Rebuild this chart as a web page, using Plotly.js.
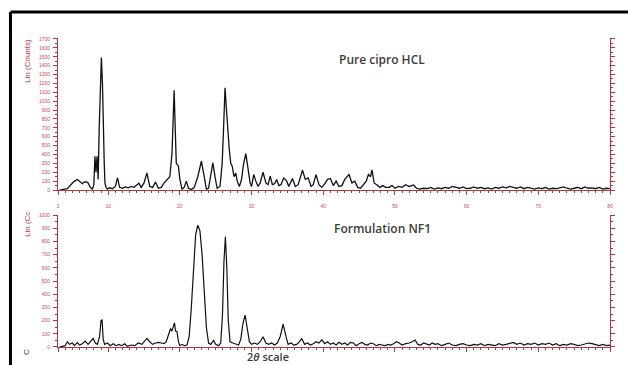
<!DOCTYPE html>
<html>
<head>
<meta charset="utf-8">
<script src="https://cdn.plot.ly/plotly-3.0.1.min.js"></script>
<style>html,body{margin:0;padding:0;background:#fff;}#chart{width:628px;height:365px;}</style>
</head>
<body>
<div id="chart"></div>
<script>
// Pure cipro HCL (top panel): 2-theta, counts
const pureX = [3.2,3.8,4.3,4.8,5.2,5.7,6.1,6.4,6.6,7.0,7.2,7.5,7.8,8.0,8.15,8.3,8.45,8.6,8.75,8.9,9.05,9.2,9.35,9.45,9.55,9.7,9.9,10.2,10.6,11.0,11.3,11.6,12.0,12.4,12.8,13.2,13.6,14.0,14.3,14.6,15.0,15.4,15.8,16.2,16.6,17.0,17.4,17.8,18.3,18.6,18.9,19.05,19.2,19.35,19.5,19.8,20.0,20.3,20.6,20.9,21.2,21.6,22.0,22.5,23.0,23.4,23.7,24.0,24.3,24.6,24.9,25.2,25.6,25.9,26.1,26.3,26.5,26.7,26.9,27.1,27.3,27.55,27.8,28.0,28.3,28.6,28.9,29.2,29.5,29.8,30.0,30.3,30.6,30.9,31.2,31.6,32.0,32.3,32.6,32.9,33.2,33.5,33.8,34.1,34.5,34.9,35.2,35.7,36.1,36.5,37.1,37.5,37.9,38.3,38.6,39.0,39.4,39.8,40.2,40.6,41.0,41.4,41.8,42.2,42.6,43.0,43.6,44.0,44.4,44.8,45.2,45.6,46.0,46.3,46.6,46.8,47.1,47.5,47.9,48.3,48.7,49.2,49.6,50.0,50.5,51.0,51.5,52.0,52.6,53.0,53.4,54.0,54.5,55.0,55.5,56.0,56.5,57.0,57.5,58.0,58.5,59.0,59.5,60.0,60.5,61.0,61.5,62.0,62.5,63.0,63.5,64.0,64.5,65.0,65.5,66.0,66.5,67.0,67.5,68.0,68.5,69.0,69.5,70.0,70.5,71.0,71.5,72.0,72.5,73.0,73.5,74.0,74.5,75.0,75.5,76.0,76.5,77.0,77.5,78.0,78.5,79.0,79.5,80.0];
const pureY = [0,5,15,60,95,118,95,72,88,90,80,30,10,60,380,200,380,120,700,1300,1490,1200,500,300,80,30,10,25,15,40,137,30,20,35,25,40,30,60,75,30,80,193,40,30,90,20,30,80,120,150,410,900,1123,700,300,268,120,10,30,100,20,5,30,150,324,150,10,20,150,306,150,20,40,300,700,1150,900,605,450,300,268,150,190,100,40,120,300,410,250,80,40,174,100,40,80,200,80,60,157,60,70,118,50,60,137,100,40,130,40,60,223,120,137,40,60,174,60,30,70,120,130,50,100,40,50,120,174,80,100,30,20,60,100,174,150,226,80,57,30,50,30,30,50,20,40,30,60,40,57,20,10,20,15,30,10,25,15,30,20,40,30,20,35,15,20,35,20,30,15,25,10,30,20,35,25,40,30,20,35,15,30,20,10,25,15,30,10,20,15,25,35,20,10,20,30,15,35,20,25,15,30,10,20,15];

// Formulation NF1 (bottom panel): 2-theta, counts
const nf1X = [3.2,3.6,4.0,4.3,4.6,5.0,5.3,5.7,6.0,6.4,6.8,7.2,7.6,7.9,8.2,8.5,8.8,9.0,9.15,9.3,9.5,9.9,10.3,10.7,11.1,11.5,11.9,12.3,12.7,13.2,13.7,14.2,14.7,15.1,15.4,15.8,16.2,16.6,17.0,17.4,17.8,18.1,18.4,18.7,18.9,19.1,19.25,19.4,19.6,19.8,20.0,20.3,20.6,21.0,21.3,21.6,21.9,22.2,22.5,22.8,23.1,23.4,23.7,24.0,24.3,24.7,25.0,25.4,25.7,25.95,26.15,26.35,26.55,26.75,27.0,27.4,27.8,28.2,28.5,28.8,29.1,29.4,29.7,30.0,30.4,30.8,31.2,31.6,32.0,32.4,32.8,33.2,33.6,34.0,34.4,34.8,35.1,35.5,35.9,36.3,36.7,37.0,37.4,37.8,38.2,38.6,39.0,39.4,39.8,40.2,40.6,41.0,41.4,41.8,42.2,42.6,43.0,43.4,43.8,44.2,44.6,45.0,45.4,45.8,46.2,46.6,47.0,47.4,47.8,48.2,48.6,49.0,49.4,49.8,50.2,50.6,51.0,51.5,52.0,52.4,52.8,53.2,53.6,54.0,54.4,54.8,55.2,55.6,56.0,56.5,57.0,57.5,58.0,58.5,59.0,59.5,60.0,60.5,61.0,61.5,62.0,62.5,63.0,63.5,64.0,64.5,65.0,65.5,66.0,66.5,67.0,67.5,68.0,68.5,69.0,69.5,70.0,70.5,71.0,71.5,72.0,72.5,73.0,73.5,74.0,74.5,75.0,75.5,76.0,76.5,77.0,77.5,78.0,78.5,79.0,79.5,80.0];
const nf1Y = [0,5,10,40,20,30,10,35,15,25,45,20,50,65,30,20,80,200,205,60,20,30,10,25,10,20,10,25,5,15,10,30,20,50,65,40,20,30,35,30,25,40,100,140,120,170,184,120,116,40,10,20,10,15,80,300,600,850,924,880,700,400,150,30,20,50,20,10,30,250,650,836,600,200,40,30,20,15,60,180,242,150,40,20,30,20,40,78,30,20,30,15,30,80,174,80,20,30,15,20,40,65,20,30,15,25,40,30,55,25,40,20,30,15,35,20,30,15,35,30,10,25,35,20,15,30,25,10,20,15,10,20,15,25,40,30,15,25,30,40,53,20,15,30,20,15,30,20,25,10,20,30,15,10,20,25,15,10,20,15,25,10,20,15,10,25,15,20,30,35,20,30,15,25,20,30,15,25,20,30,15,25,10,20,15,25,20,10,15,20,30,25,15,10,20,10,15];

const xTickVals = [3,10,20,30,40,50,60,70,80];
const xTickText = ['3','10','20','30','40','50','60','70','80'];

const AX = '#b8343f';
const tickFont = {family: 'Liberation Sans, Arial, sans-serif', size: 5, color: '#c24a55'};

const traces = [
  {x: pureX, y: pureY, xaxis: 'x2', yaxis: 'y2', type: 'scatter', mode: 'lines',
   line: {color: '#111', width: 1.3}, hoverinfo: 'skip'},
  {x: nf1X, y: nf1Y, xaxis: 'x', yaxis: 'y', type: 'scatter', mode: 'lines',
   line: {color: '#111', width: 1.2}, hoverinfo: 'skip'}
];

function yAx(domain, range) {
  return {
    domain: domain, range: range, tickmode: 'linear', tick0: 0, dtick: 100,
    ticks: 'outside', ticklen: 4, tickwidth: 1, tickcolor: AX,
    minor: {dtick: 50, ticklen: 2, tickcolor: AX, ticks: 'outside'},
    showline: true, linecolor: AX, linewidth: 1, mirror: 'ticks',
    showgrid: false, zeroline: false, tickfont: tickFont, ticklabelstandoff: 2
  };
}
function xAx(anchor, labels) {
  return {
    anchor: anchor, range: [3, 80], tickmode: 'array', tickvals: xTickVals, ticktext: xTickText,
    showticklabels: labels, ticks: 'outside', ticklen: 4, tickwidth: 1, tickcolor: AX,
    minor: {tickmode: 'linear', tick0: 0, dtick: 1, ticklen: 2, tickcolor: AX, ticks: 'outside'},
    showline: true, linecolor: AX, linewidth: 1, showgrid: false, zeroline: false,
    tickfont: tickFont, ticklabelstandoff: 7
  };
}

const titleFont = {family: 'Open Sans, sans-serif', size: 12, color: '#3c3c3c', weight: 600};
const redFont = {family: 'Liberation Sans, Arial, sans-serif', size: 8, color: AX};

const layout = {
  width: 628, height: 365,
  margin: {l: 58, r: 18, t: 38, b: 18},
  paper_bgcolor: '#fff', plot_bgcolor: '#fff',
  showlegend: false,
  xaxis: xAx('y', false),
  yaxis: yAx([0, 0.427], [0, 1000]),
  xaxis2: xAx('y2', true),
  yaxis2: yAx([0.508, 1], [0, 1711]),
  annotations: [
    {text: 'Pure cipro HCL', xref: 'paper', yref: 'paper', x: 0.587, y: 0.929,
     xanchor: 'center', yanchor: 'middle', showarrow: false, font: titleFont},
    {text: 'Formulation NF1', xref: 'paper', yref: 'paper', x: 0.587, y: 0.382,
     xanchor: 'center', yanchor: 'middle', showarrow: false, font: titleFont},
    {text: '2<i>θ</i> scale', xref: 'paper', yref: 'paper', x: 0.38, y: -0.032,
     xanchor: 'center', yanchor: 'middle', showarrow: false,
     font: {family: 'Open Sans, sans-serif', size: 11, color: '#3c3c3c', weight: 600}},
    {text: 'Lin (Counts)', xref: 'paper', yref: 'paper', x: -0.0543, y: 0.926,
     xanchor: 'center', yanchor: 'middle', textangle: -90, showarrow: false, font: redFont},
    {text: 'Lin (Cc', xref: 'paper', yref: 'paper', x: -0.0543, y: 0.395,
     xanchor: 'center', yanchor: 'middle', textangle: -90, showarrow: false, font: redFont},
    {text: 'C', xref: 'paper', yref: 'paper', x: -0.0561, y: -0.016,
     xanchor: 'center', yanchor: 'middle', textangle: -90, showarrow: false,
     font: {family: 'Liberation Sans, Arial, sans-serif', size: 8, color: '#333'}}
  ],
  shapes: [
    {type: 'line', xref: 'paper', yref: 'paper', x0: -0.0861, x1: 1.04, y0: 1.0841, y1: 1.0841,
     line: {color: '#000', width: 3}},
    {type: 'line', xref: 'paper', yref: 'paper', x0: -0.0861, x1: -0.0861, y0: 1.0841, y1: -0.07,
     line: {color: '#000', width: 3}}
  ]
};

Plotly.newPlot('chart', traces, layout, {staticPlot: true, displayModeBar: false});
</script>
</body>
</html>
